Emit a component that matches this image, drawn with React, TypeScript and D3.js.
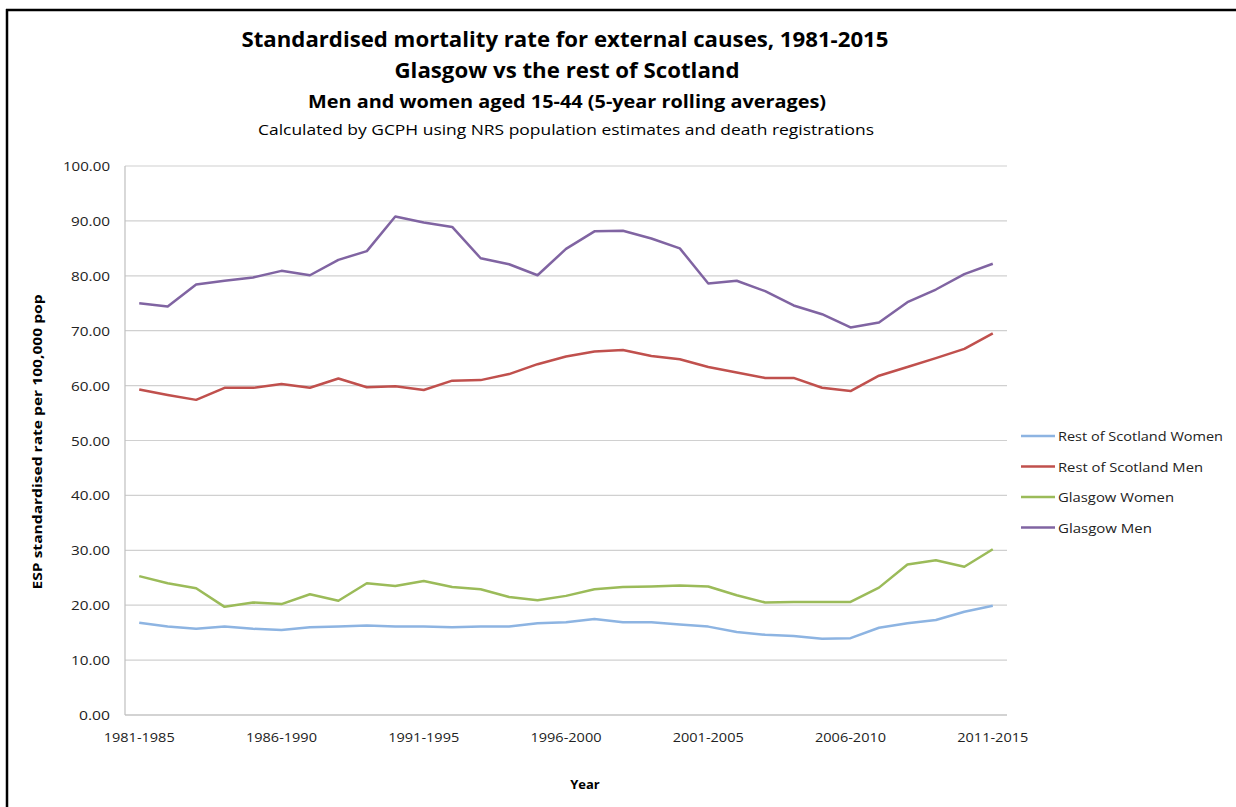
import React from "react";
import * as d3 from "d3";

const categories: string[] = [];
for (let y = 1981; y <= 2011; y++) categories.push(`${y}-${y + 4}`);

const tickLabels = ["1981-1985", "1986-1990", "1991-1995", "1996-2000", "2001-2005", "2006-2010", "2011-2015"];
const yTicks = [0, 10, 20, 30, 40, 50, 60, 70, 80, 90, 100];

const restWomen = [16.8, 16.1, 15.7, 16.1, 15.7, 15.5, 16.0, 16.1, 16.3, 16.1, 16.1, 16.0, 16.1, 16.1, 16.7, 16.9, 17.5, 16.9, 16.9, 16.5, 16.1, 15.1, 14.6, 14.4, 13.9, 14.0, 15.9, 16.7, 17.3, 18.8, 19.9];
const restMen = [59.3, 58.3, 57.4, 59.6, 59.6, 60.3, 59.6, 61.3, 59.7, 59.9, 59.2, 60.9, 61.0, 62.1, 63.9, 65.3, 66.2, 66.5, 65.4, 64.8, 63.4, 62.4, 61.4, 61.4, 59.6, 59.0, 61.8, 63.4, 65.0, 66.7, 69.5];
const glasgowWomen = [25.3, 24.0, 23.1, 19.7, 20.5, 20.2, 22.0, 20.8, 24.0, 23.5, 24.4, 23.3, 22.9, 21.5, 20.9, 21.7, 22.9, 23.3, 23.4, 23.6, 23.4, 21.8, 20.5, 20.6, 20.6, 20.6, 23.2, 27.4, 28.2, 27.0, 30.2];
const glasgowMen = [75.0, 74.4, 78.4, 79.1, 79.7, 80.9, 80.1, 82.9, 84.5, 90.8, 89.7, 88.9, 83.2, 82.1, 80.1, 84.9, 88.1, 88.2, 86.8, 85.0, 78.6, 79.1, 77.2, 74.6, 73.0, 70.6, 71.5, 75.2, 77.5, 80.3, 82.2];

const seriesNames = ["Rest of Scotland Women", "Rest of Scotland Men", "Glasgow Women", "Glasgow Men"];
const seriesValues = [restWomen, restMen, glasgowWomen, glasgowMen];
const seriesColors = ["#8db4e2", "#c0504d", "#9bbb59", "#8064a2"];

const FONT = "'Open Sans', 'Liberation Sans', sans-serif";

export default function App() {
  const W = 1236, H = 807;
  const left = 125, right = 1007, top = 166, bottom = 715;
  const x = d3.scalePoint<string>().domain(categories).range([left, right]).padding(0.5);
  const y = d3.scaleLinear().domain([0, 100]).range([bottom, top]);
  const line = d3.line<number>().x((_, i) => x(categories[i]) as number).y((d) => y(d));
  const legendWidths = [165, 145, 116, 94];

  return (
    <svg width={W} height={H} style={{ position: "absolute", left: 0, top: 0, background: "#fff" }} fontFamily={FONT}>
      <rect x={0} y={0} width={W} height={H} fill="#fff" />
      <line x1={7} x2={7} y1={9} y2={H} stroke="#000" strokeWidth={2.5} />
      <line x1={6} x2={W} y1={10} y2={10} stroke="#000" strokeWidth={2.5} />

      <text x={565} y={47} textAnchor="middle" fontSize={21} fontWeight="bold" fill="#000" textLength={647} lengthAdjust="spacingAndGlyphs">Standardised mortality rate for external causes, 1981-2015</text>
      <text x={567} y={78} textAnchor="middle" fontSize={21} fontWeight="bold" fill="#000" textLength={345} lengthAdjust="spacingAndGlyphs">Glasgow vs the rest of Scotland</text>
      <text x={567} y={108} textAnchor="middle" fontSize={18} fontWeight="bold" fill="#000" textLength={518} lengthAdjust="spacingAndGlyphs">Men and women aged 15-44 (5-year rolling averages)</text>
      <text x={566} y={135} textAnchor="middle" fontSize={15} fill="#000" textLength={616} lengthAdjust="spacingAndGlyphs">Calculated by GCPH using NRS population estimates and death registrations</text>

      {yTicks.map((t) => (
        <line key={"g" + t} x1={left} x2={right} y1={y(t)} y2={y(t)} stroke="#d0d0d0" strokeWidth={1.2} />
      ))}
      <line x1={left} x2={left} y1={top} y2={bottom} stroke="#bfbfbf" strokeWidth={1.2} />
      <line x1={left} x2={right} y1={bottom} y2={bottom} stroke="#bfbfbf" strokeWidth={1.2} />

      {yTicks.map((t) => (
        <text key={"yt" + t} x={110} y={y(t) + 5} textAnchor="end" fontSize={13.5} fill="#222" textLength={t === 100 ? 47 : t === 0 ? 31 : 39} lengthAdjust="spacingAndGlyphs">{t.toFixed(2)}</text>
      ))}
      {tickLabels.map((c) => (
        <text key={"xt" + c} x={x(c) as number} y={742} textAnchor="middle" fontSize={13.5} fill="#222" textLength={71} lengthAdjust="spacingAndGlyphs">{c}</text>
      ))}

      <text transform={`translate(42, 442) rotate(-90)`} textAnchor="middle" fontSize={12.5} fontWeight="bold" fill="#000" textLength={295} lengthAdjust="spacingAndGlyphs">ESP standardised rate per 100,000 pop</text>
      <text x={585} y={789} textAnchor="middle" fontSize={13} fontWeight="bold" fill="#000">Year</text>

      {seriesValues.map((vals, k) => (
        <path key={"s" + k} d={line(vals) || ""} fill="none" stroke={seriesColors[k]} strokeWidth={2.5} strokeLinejoin="round" />
      ))}

      {seriesNames.map((n, k) => {
        const ly = 436 + k * 30.5;
        return (
          <g key={"l" + k}>
            <line x1={1021} x2={1055} y1={ly} y2={ly} stroke={seriesColors[k]} strokeWidth={2.5} />
            <text x={1058} y={ly + 5} fontSize={13.5} fill="#222" textLength={legendWidths[k]} lengthAdjust="spacingAndGlyphs">{n}</text>
          </g>
        );
      })}
    </svg>
  );
}
